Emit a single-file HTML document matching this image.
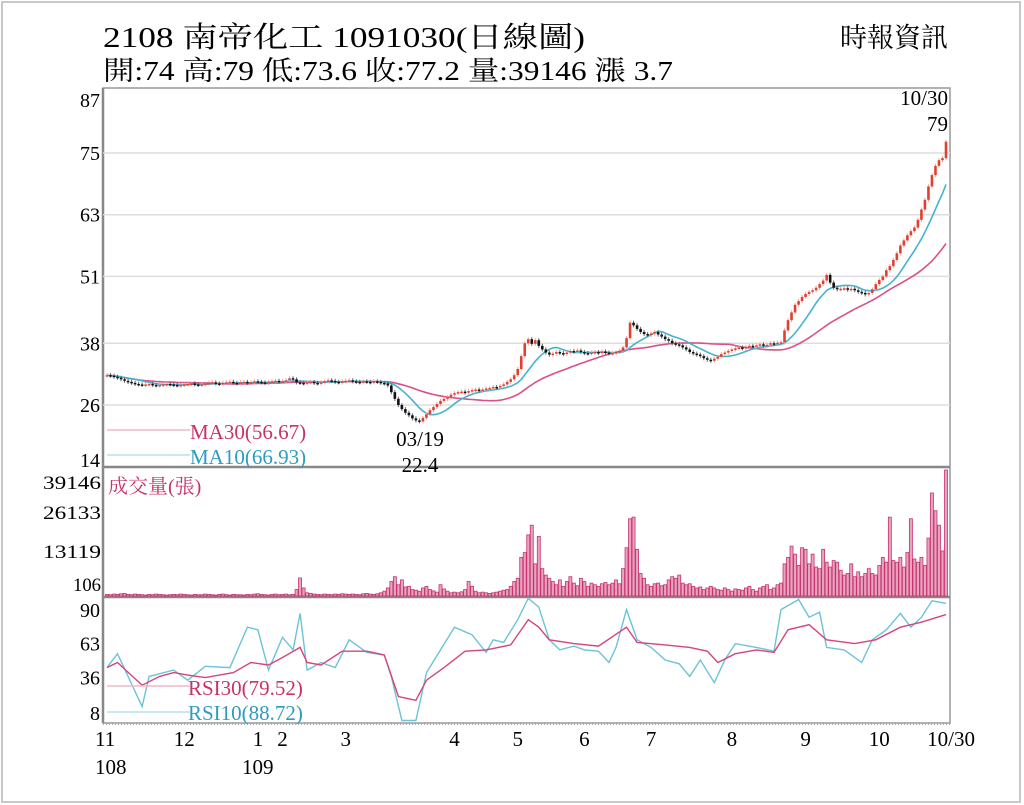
<!DOCTYPE html>
<html><head><meta charset="utf-8"><style>
html,body{margin:0;padding:0;background:#fff;}
svg{display:block;font-family:"Liberation Serif","Noto Serif CJK SC",serif;}
</style></head><body>
<svg id="chart" width="1024" height="805" viewBox="0 0 1024 805">
<rect x="2" y="2" width="1018" height="800" fill="#fff" stroke="#c8c8c8" stroke-width="2"/>
<text x="103" y="47" font-size="29" textLength="482" lengthAdjust="spacingAndGlyphs" fill="#000">2108  南帝化工 1091030(日線圖)</text>
<text x="948" y="47" font-size="27" text-anchor="end" fill="#000">時報資訊</text>
<text x="103" y="80" font-size="27" textLength="570" lengthAdjust="spacingAndGlyphs" fill="#000">開:74 高:79 低:73.6 收:77.2 量:39146 漲 3.7</text>
<g id="grid"></g>
<g id="marks"></g>
<g id="labels"></g>
</svg>
<script>
const closes=[31.8,31.7,31.5,31.3,31.0,30.7,30.5,30.3,30.1,30.0,
29.9,30.0,30.1,29.9,29.8,29.9,30.0,30.1,30.0,29.9,
29.8,29.9,30.0,30.1,30.2,30.0,29.9,30.0,30.2,30.3,
30.4,30.2,30.1,30.3,30.4,30.5,30.3,30.2,30.4,30.5,
30.3,30.4,30.6,30.5,30.4,30.3,30.5,30.6,30.7,30.5,
30.6,30.8,31.2,31.0,30.4,30.3,30.2,30.4,30.5,30.3,
30.2,30.4,30.6,30.8,30.7,30.5,30.4,30.6,30.7,30.8,
30.6,30.5,30.4,30.6,30.5,30.4,30.6,30.5,30.3,30.2,
29.8,28.5,27.2,26.0,25.2,24.5,24.0,23.4,23.0,22.8,
23.5,24.2,25.0,25.6,26.2,26.8,27.2,27.5,28.0,28.3,
28.5,28.6,28.4,28.7,28.9,29.0,28.8,29.0,29.2,29.3,
29.5,29.4,29.7,30.0,30.5,31.0,31.8,33.0,35.5,38.0,
38.8,37.9,38.6,37.5,36.8,36.2,35.8,36.0,36.3,36.1,
35.9,36.2,36.5,36.4,36.6,36.3,36.1,36.0,36.2,36.3,
36.1,36.4,36.2,36.0,36.1,36.3,36.5,37.2,39.0,42.0,
41.5,40.8,40.2,39.8,39.6,39.9,40.2,39.7,39.3,38.8,
38.5,38.0,37.8,37.6,37.2,36.8,36.3,36.0,35.8,35.5,
35.1,34.8,34.6,35.0,35.4,35.9,36.2,36.5,36.8,37.0,
37.2,37.0,37.3,37.5,37.4,37.6,37.8,37.5,37.7,38.0,
37.9,38.1,38.2,40.5,42.5,44.0,45.5,46.2,47.0,47.6,
48.0,48.3,48.8,49.5,50.2,51.3,49.8,48.8,48.5,48.6,
48.7,48.4,48.6,48.3,48.0,47.8,47.5,47.8,48.5,49.5,
50.3,51.0,52.2,53.0,54.2,55.5,57.0,58.0,59.0,59.8,
60.5,62.0,64.0,65.9,68.5,70.7,72.5,73.6,74.0,77.2];
const volumes=[.5,.4,.6,.5,.7,.8,.5,.4,.6,.5,
.4,.3,.5,.4,.6,.5,.4,.3,.4,.5,
.4,.6,.5,.4,.3,.5,.4,.4,.6,.5,
.4,.3,.5,.6,.4,.3,.5,.4,.4,.3,
.5,.4,.6,.7,.5,.4,.3,.5,.6,.4,
.5,.6,.4,.5,2.0,5.6,2.5,1.0,.8,.6,
.5,.4,.6,.5,.4,.6,.5,.7,.6,.5,
.6,.5,.4,.7,.8,.6,.5,.7,1.0,1.5,
2.5,4.5,6.0,3.5,5.0,2.8,3.0,2.0,1.8,1.5,
2.5,3.0,2.0,1.6,1.2,3.5,2.2,1.5,1.0,1.2,
1.0,1.3,2.0,4.5,3.0,1.5,1.0,1.2,1.0,.8,
1.0,1.2,1.5,1.8,2.0,3.0,4.5,5.5,12.0,13.5,
19.0,22.0,10.0,18.5,8.5,6.5,5.5,4.5,3.5,5.0,
3.0,4.5,6.0,4.0,3.2,5.5,4.5,3.0,4.0,3.5,
3.0,3.8,4.2,3.5,4.0,5.0,3.8,8.5,15.0,24.0,
24.5,14.5,7.0,5.5,3.5,3.0,3.8,4.0,3.2,3.5,
5.0,6.0,5.5,6.5,4.0,3.5,3.8,3.0,2.5,2.8,
2.0,2.5,3.0,2.5,2.0,1.8,2.5,2.0,1.5,2.2,
2.0,1.8,2.5,3.0,2.0,1.5,2.5,3.0,3.5,2.0,
2.5,3.5,4.0,10.0,12.0,15.5,13.0,9.5,15.0,14.5,
10.0,13.0,9.0,8.5,14.5,10.5,9.0,11.0,10.5,8.0,
6.5,7.0,10.0,6.0,7.5,6.0,7.0,8.5,7.0,6.5,
9.5,12.0,10.5,24.5,11.0,10.5,12.0,9.0,13.5,24.0,
11.5,10.5,12.0,9.5,18.0,32.0,26.5,22.0,14.0,39.146];
const rsi10Days=[0,3,6,10,12,19,23,28,35,40,43,46,50,53,55,57,61,65,69,74,79,81,84,88,91,95,99,104,108,110,113,117,120,123,126,129,133,136,140,143,145,148,151,155,159,163,166,169,173,176,179,185,190,192,197,200,203,205,210,215,218,222,226,229,232,235,239];
const rsi10=[44,55,37,13,37,42,34,45,44,76,74,42,68,58,87,42,48,44,66,56,54,37,2,2,40,58,76,70,56,66,64,82,99,92,66,58,61,58,57,48,60,90,66,60,50,47,37,50,32,50,63,60,57,90,98,84,88,60,58,48,66,74,87,76,84,97,95];
const rsi30Days=[0,3,10,15,19,23,28,36,41,46,50,55,57,61,67,74,79,83,88,91,96,102,108,115,120,123,126,133,140,148,151,159,166,171,174,179,185,190,194,200,205,213,219,226,232,239];
const rsi30=[44,48,30,37,40,38,36,40,48,46,52,60,48,46,57,57,54,21,18,34,44,57,58,62,82,76,66,63,61,76,64,62,60,57,48,55,58,56,74,78,66,63,66,76,80,86];
const priceTicks=[87,75,63,51,38,26,14];
const volTicks=[39146,26133,13119,106];
const rsiTicks=[90,63,36,8];
const monthLabels=["11","12","1","2","3","4","5","6","7","8","9","10","10/30"];
const monthDays=[0,22,43,50,68,99,117,136,155,178,199,220,239];
const yearLabels=["108","109"];
const yearDays=[0,43];

const NS="http://www.w3.org/2000/svg";
const L=107,R=946,N=closes.length;
const xs=i=>L+i*(R-L)/(N-1);
const yp=p=>405-(p-26)*5.143;
const VB=596,VH=126,VMAX=39.146;
const yv=v=>VB-v/VMAX*VH;
const yr=r=>723-r*1.26;
const grid=document.getElementById('grid'),marks=document.getElementById('marks'),labels=document.getElementById('labels');
function mk(tag,attrs,parent){const e=document.createElementNS(NS,tag);for(const k in attrs)e.setAttribute(k,attrs[k]);parent.appendChild(e);return e;}

let e;
e=mk('rect',{x:103,y:88,width:847,height:635,fill:'none',stroke:'#999','stroke-width':1.5},grid);


e=mk('line',{x1:103,x2:950,y1:467,y2:467,stroke:'#888','stroke-width':2.5},grid);


e=mk('line',{x1:103,x2:950,y1:597,y2:597,stroke:'#888','stroke-width':2.5},grid);


e=mk('line',{x1:103,x2:103,y1:88,y2:723,stroke:'#888','stroke-width':2.5},grid);


e=mk('line',{x1:103,x2:950,y1:724,y2:724,stroke:'#aaa','stroke-width':2,'stroke-dasharray':'1 2'},grid);



priceTicks.forEach(t=>{
  if(t>14&&t<87){e=mk('line',{x1:103,x2:950,y1:yp(t),y2:yp(t),stroke:'#ddd','stroke-width':1.5},grid);
  
  }
  e=mk('text',{x:100,y:Math.min(Math.max(yp(t),100),460)+7,'font-size':20,'text-anchor':'end'},labels);e.textContent=t;
  
  
});
const volLabelY=[489,519,558,591];
volTicks.forEach((t,k)=>{e=mk('text',{x:101,y:volLabelY[k],'font-size':19,'text-anchor':'end',textLength:t>1000?58:28,lengthAdjust:'spacingAndGlyphs'},labels);e.textContent=t;
  
  });
rsiTicks.forEach(t=>{e=mk('text',{x:100,y:Math.max(yr(t),610)+7,'font-size':20,'text-anchor':'end'},labels);e.textContent=t;
  
  });

function ma(n){return closes.map((c,i)=>{const s=closes.slice(Math.max(0,i-n+1),i+1);return s.reduce((a,b)=>a+b,0)/s.length;});}
const ma10=ma(10),ma30=ma(30);
function poly(arr,color,name,w){const pts=arr.map((v,i)=>xs(i).toFixed(1)+','+yp(v).toFixed(1)).join(' ');
  const p=mk('polyline',{points:pts,fill:'none',stroke:color,'stroke-width':w},marks);
  
  }
poly(ma30,'#d9508a','ma30-line',1.6);
poly(ma10,'#45b3cf','ma10-line',1.6);

closes.forEach((c,i)=>{const o=i?closes[i-1]:c;const up=c>=o;const col=up?'#e0402e':'#111';
  const hi=Math.max(o,c)+0.4,lo=Math.min(o,c)-0.4;const x=xs(i);
  const g=mk('g',{},marks);
  
  
  mk('line',{x1:x,x2:x,y1:yp(hi),y2:yp(lo),stroke:up?'#f0a0a0':'#666','stroke-width':1},g);
  const top=yp(Math.max(o,c)),h=Math.max(1.5,yp(Math.min(o,c))-top);
  mk('rect',{x:x-1.3,y:top,width:2.6,height:h,fill:col},g);
});

volumes.forEach((v,i)=>{const r=mk('rect',{x:xs(i)-1.5,y:yv(v),width:3,height:VB-yv(v),fill:'#e7a3bf',stroke:'#c8326e','stroke-width':0.8},marks);
  
  });

function rpoly(days,vals,color,name){const pts=days.map((d,k)=>xs(d).toFixed(1)+','+yr(vals[k]).toFixed(1)).join(' ');
  const p=mk('polyline',{points:pts,fill:'none',stroke:color,'stroke-width':1.4},marks);
  
  }
rpoly(rsi10Days,rsi10,'#6cc3d8','rsi10-line');
rpoly(rsi30Days,rsi30,'#d4457f','rsi30-line');

monthLabels.forEach((m,k)=>{let x=xs(monthDays[k]);const anchor=k===monthLabels.length-1?'end':'middle';if(k===monthLabels.length-1)x=975;
  e=mk('text',{x:k===0?95:x,y:746,'font-size':21,'text-anchor':k===0?'start':anchor},labels);e.textContent=m;
  
  });
yearLabels.forEach((yl,k)=>{e=mk('text',{x:k===0?95:xs(yearDays[k])-16,y:774,'font-size':21},labels);e.textContent=yl;
  
  });

function txt(s,a,name){const t=mk('text',a,labels);t.textContent=s;
  
  return t;}
txt('10/30',{x:948,y:105,'font-size':21,'text-anchor':'end'},'high-date-label');
txt('79',{x:948,y:131,'font-size':21,'text-anchor':'end'},'high-value-label');
txt('03/19',{x:420,y:446,'font-size':21,'text-anchor':'middle'},'low-date-label');
txt('22.4',{x:420,y:472,'font-size':21,'text-anchor':'middle'},'low-value-label');
e=mk('line',{x1:107,x2:190,y1:430,y2:430,stroke:'#f0b8cc','stroke-width':1.5},labels);


txt('MA30(56.67)',{x:190,y:439,'font-size':21,fill:'#c8336a'},'ma30-legend');
e=mk('line',{x1:107,x2:190,y1:455,y2:455,stroke:'#b8e0ea','stroke-width':1.5},labels);


txt('MA10(66.93)',{x:190,y:464,'font-size':21,fill:'#2e9cbf'},'ma10-legend');
txt('成交量(張)',{x:108,y:493,'font-size':20,fill:'#c8336a'},'volume-title');
e=mk('line',{x1:107,x2:190,y1:686,y2:686,stroke:'#f0b8cc','stroke-width':1.5},labels);


txt('RSI30(79.52)',{x:188,y:695,'font-size':21,fill:'#c8336a'},'rsi30-legend');
e=mk('line',{x1:107,x2:190,y1:712,y2:712,stroke:'#b8e0ea','stroke-width':1.5},labels);


txt('RSI10(88.72)',{x:188,y:720,'font-size':21,fill:'#2e9cbf'},'rsi10-legend');
</script>
</body></html>
